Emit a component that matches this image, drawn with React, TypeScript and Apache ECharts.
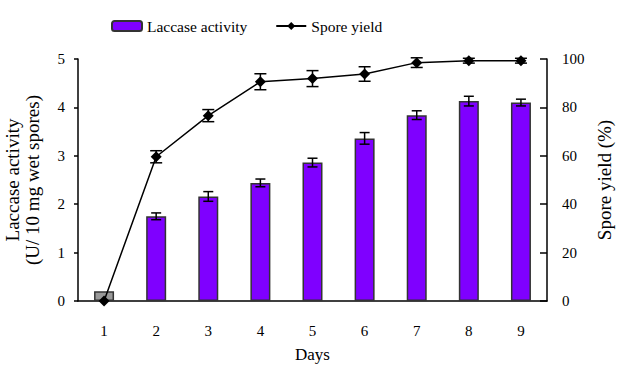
import React, { useEffect, useRef } from "react";
import * as echarts from "echarts";

const days = ["1", "2", "3", "4", "5", "6", "7", "8", "9"];
const laccase = [0.2, 1.75, 2.16, 2.44, 2.86, 3.36, 3.84, 4.13, 4.1];
const laccaseErr = [0, 0.07, 0.1, 0.08, 0.09, 0.12, 0.09, 0.1, 0.07];
const spore = [0, 59.6, 76.6, 90.6, 91.9, 93.8, 98.5, 99.3, 99.3];
const sporeErr = [0, 2.5, 2.5, 3.3, 3.3, 3, 2, 1, 1];

const FONT = "Liberation Serif";

function errorRenderer(halfCap: number) {
  return (params: any, api: any) => {
    const x = api.value(0);
    const lo = api.value(1);
    const hi = api.value(2);
    if (hi - lo <= 0) return { type: "group", children: [] };
    const pLo = api.coord([x, lo]);
    const pHi = api.coord([x, hi]);
    const st = { stroke: "#000", lineWidth: 1.5 };
    return {
      type: "group",
      children: [
        { type: "line", shape: { x1: pLo[0], y1: pLo[1], x2: pHi[0], y2: pHi[1] }, style: st },
        { type: "line", shape: { x1: pLo[0] - halfCap, y1: pLo[1], x2: pLo[0] + halfCap, y2: pLo[1] }, style: st },
        { type: "line", shape: { x1: pHi[0] - halfCap, y1: pHi[1], x2: pHi[0] + halfCap, y2: pHi[1] }, style: st },
      ],
    };
  };
}

export default function App() {
  const ref = useRef<HTMLDivElement>(null);
  useEffect(() => {
    if (!ref.current) return;
    const chart = echarts.init(ref.current, undefined, { renderer: "svg" });
    const axisText = { fontFamily: FONT, fontSize: 15, color: "#000" };
    chart.setOption({
      animation: false,
      backgroundColor: "#fff",
      textStyle: { fontFamily: FONT },
      legend: {
        data: ["Laccase activity", "Spore yield"],
        top: 13,
        left: 106,
        itemWidth: 30,
        itemHeight: 10,
        itemGap: 28,
        textStyle: { fontFamily: FONT, fontSize: 15.5, color: "#000" },
      },
      grid: { left: 78, right: 80, top: 59, bottom: 67, outerBoundsMode: "none", containLabel: false },
      xAxis: {
        type: "category",
        data: days,
        name: "Days",
        nameLocation: "middle",
        nameGap: 45,
        nameTextStyle: { fontFamily: FONT, fontSize: 17, color: "#000" },
        axisLine: { lineStyle: { color: "#000", width: 1.5 } },
        axisTick: { inside: true, length: 6, lineStyle: { color: "#000", width: 1.5 } },
        axisLabel: { ...axisText, margin: 22 },
      },
      yAxis: [
        {
          type: "value",
          min: 0,
          max: 5,
          interval: 1,
          name: "Laccase activity\n(U/ 10 mg wet spores)",
          nameLocation: "middle",
          nameRotate: 90,
          nameGap: 36,
          nameTextStyle: { fontFamily: FONT, fontSize: 19, color: "#000", lineHeight: 20 },
          axisLine: { show: true, lineStyle: { color: "#000", width: 1.5 } },
          axisTick: { show: true, inside: false, length: 4, lineStyle: { color: "#000", width: 1.5 } },
          axisLabel: { ...axisText, margin: 13 },
          splitLine: { show: false },
        },
        {
          type: "value",
          min: 0,
          max: 100,
          interval: 20,
          name: "Spore yield (%)",
          nameLocation: "middle",
          nameRotate: 90,
          nameGap: 45,
          nameTextStyle: { fontFamily: FONT, fontSize: 19, color: "#000" },
          axisLine: { show: true, lineStyle: { color: "#000", width: 1.5 } },
          axisTick: { show: true, inside: true, length: 7, lineStyle: { color: "#000", width: 1.5 } },
          axisLabel: { ...axisText, margin: 15 },
          splitLine: { show: false },
        },
      ],
      series: [
        {
          name: "Laccase activity",
          type: "bar",
          yAxisIndex: 0,
          barWidth: 20,
          itemStyle: { color: "#7F00FF", borderColor: "#333", borderWidth: 1.5 },
          data: laccase.map((v, i) =>
            i === 0 ? { value: v, itemStyle: { color: "#999999" } } : v
          ),
          z: 2,
        },
        {
          name: "laccaseErr",
          type: "custom",
          yAxisIndex: 0,
          renderItem: errorRenderer(5),
          data: laccase.map((v, i) => [i, v - laccaseErr[i], v + laccaseErr[i]]),
          z: 3,
        },
        {
          name: "Spore yield",
          type: "line",
          yAxisIndex: 1,
          symbol: "diamond",
          symbolSize: 11,
          itemStyle: { color: "#000" },
          lineStyle: { color: "#000", width: 1.5 },
          data: spore,
          z: 5,
        },
        {
          name: "sporeErr",
          type: "custom",
          yAxisIndex: 1,
          renderItem: errorRenderer(6),
          data: spore.map((v, i) => [i, v - sporeErr[i], v + sporeErr[i]]),
          z: 4,
        },
      ],
    });
    return () => chart.dispose();
  }, []);
  return <div ref={ref} style={{ width: 627, height: 368, position: "absolute", left: 0, top: 0 }} />;
}
